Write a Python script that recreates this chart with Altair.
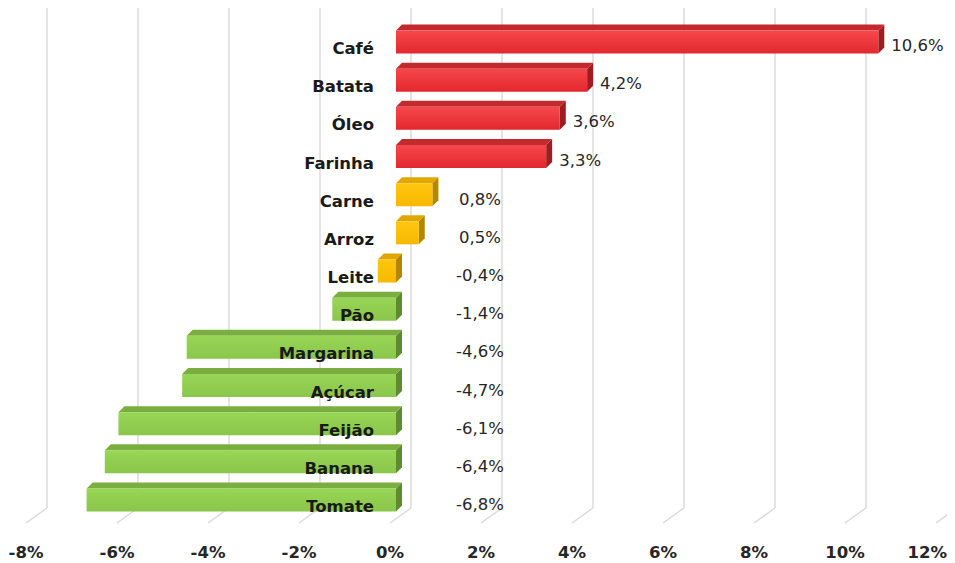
import altair as alt
import pandas as pd

# ---- data ----
categories = ["Café", "Batata", "Óleo", "Farinha", "Carne", "Arroz", "Leite",
              "Pão", "Margarina", "Açúcar", "Feijão", "Banana", "Tomate"]
values = [10.6, 4.2, 3.6, 3.3, 0.8, 0.5, -0.4, -1.4, -4.6, -4.7, -6.1, -6.4, -6.8]
groups = ["alta"] * 4 + ["estavel"] * 3 + ["baixa"] * 6
ticks = [-8, -6, -4, -2, 0, 2, 4, 6, 8, 10, 12]
tick_labels = ["-8%", "-6%", "-4%", "-2%", "0%", "2%", "4%", "6%", "8%", "10%", "12%"]

# ---- style ----
W, H = 939, 555
PX_X = 45.5      # px per 1 %
PX_Y = 38.17     # px per row
DEPTH = 6.0      # 3D depth in px
HALF = 11.5      # half bar height in px
FONT = "DejaVu Sans"

top_col = {"alta": "#C22A2E", "estavel": "#E0A700", "baixa": "#7AAE3E"}
side_col = {"alta": "#9C1E22", "estavel": "#B38700", "baixa": "#5E8A32"}
front_grad = {
    "alta": ("#F6484C", "#E2282E"),
    "estavel": ("#FFC510", "#F7B900"),
    "baixa": ("#98D656", "#8AC64A"),
}

x0 = 388.0 / PX_X
xs = alt.Scale(domain=[-x0, (W - 388.0) / PX_X], nice=False, zero=False)
y0 = 34.0 / PX_Y
ys = alt.Scale(domain=[-y0, (H - 34.0) / PX_Y], nice=False, zero=False, reverse=True)

dxv = DEPTH / PX_X
dyr = DEPTH / PX_Y
h = HALF / PX_Y

df = pd.DataFrame({"cat": categories, "v": values, "grp": groups})
df["row"] = range(len(df))
df["zero"] = 0.0
df["lo"] = df["v"].clip(upper=0)
df["hi"] = df["v"].clip(lower=0)
df["top"] = df["row"] - h
df["bot"] = df["row"] + h
df["label"] = df["v"].map(lambda v: f"{v:.1f}".replace(".", ",") + "%")

top_rows = []
side_rows = []
for _, r in df.iterrows():
    t, b, lo, hi = r["top"], r["bot"], r["lo"], r["hi"]
    c = top_col[r["grp"]]
    for px, ya, yb in [(lo, t, t), (lo + dxv, t - dyr, t), (hi, t - dyr, t), (hi + dxv, t - dyr, t - dyr)]:
        top_rows.append({"cat": r["cat"], "x": px, "y": ya, "y2": yb, "fill": c})
    c2 = side_col[r["grp"]]
    for px, ya, yb in [(hi, t, b), (hi + dxv, t - dyr, b - dyr)]:
        side_rows.append({"cat": r["cat"], "x": px, "y": ya, "y2": yb, "fill": c2})
top_df = pd.DataFrame(top_rows)
side_df = pd.DataFrame(side_rows)

tick_df = pd.DataFrame({"t": ticks, "lab": tick_labels})
last_tick = ticks[-1]

grid_col = "#D9D9D9"
grid_v = alt.Chart(tick_df).mark_rule(color=grid_col, strokeWidth=1.4, xOffset=15).encode(
    x=alt.X("t:Q", scale=xs, axis=None),
    y=alt.value(0), y2=alt.value(500),
)
grid_d = alt.Chart(tick_df).mark_rule(color=grid_col, strokeWidth=1.4, xOffset=15, x2Offset=-6).encode(
    x=alt.X("t:Q", scale=xs, axis=None), x2="t:Q",
    y=alt.value(500), y2=alt.value(515),
)
tick_text = alt.Chart(tick_df).transform_filter(alt.datum.t < last_tick).mark_text(
    font=FONT, fontSize=16.5, fontWeight="bold", color="#262626", dx=-6, baseline="middle"
).encode(
    x=alt.X("t:Q", scale=xs, axis=None), y=alt.value(545), text="lab:N"
)
tick_last = alt.Chart(tick_df).transform_filter(alt.datum.t == last_tick).mark_text(
    font=FONT, fontSize=16.5, fontWeight="bold", color="#262626", dx=5, align="right",
    baseline="middle"
).encode(
    x=alt.X("t:Q", scale=xs, axis=None), y=alt.value(545), text="lab:N"
)

sides = alt.Chart(side_df).mark_area().encode(
    x=alt.X("x:Q", scale=xs, axis=None),
    y=alt.Y("y:Q", scale=ys, axis=None), y2="y2:Q",
    detail="cat:N",
    color=alt.Color("fill:N", scale=None),
)
tops = alt.Chart(top_df).mark_area().encode(
    x=alt.X("x:Q", scale=xs, axis=None),
    y=alt.Y("y:Q", scale=ys, axis=None), y2="y2:Q",
    detail="cat:N",
    color=alt.Color("fill:N", scale=None),
)

fronts = []
for g, (c1, c2) in front_grad.items():
    fronts.append(
        alt.Chart(df).transform_filter(alt.datum.grp == g).mark_rect(
            color=alt.Gradient(gradient="linear", x1=0, x2=0, y1=0, y2=1,
                               stops=[alt.GradientStop(color=c1, offset=0),
                                      alt.GradientStop(color=c2, offset=1)])
        ).encode(
            x=alt.X("lo:Q", scale=xs, axis=None), x2="hi:Q",
            y=alt.Y("top:Q", scale=ys, axis=None), y2="bot:Q",
        )
    )

cat_text = alt.Chart(df).mark_text(
    font=FONT, fontSize=16.5, fontWeight="bold", color="#1A1A1A",
    align="right", baseline="middle", dx=-22, dy=7
).encode(
    x=alt.X("zero:Q", scale=xs, axis=None), y=alt.Y("row:Q", scale=ys, axis=None), text="cat:N"
)

val_pos = alt.Chart(df).transform_filter(alt.datum.grp == "alta").mark_text(
    font=FONT, fontSize=16.5, color="#262626", align="left", baseline="middle", dx=13, dy=4
).encode(
    x=alt.X("v:Q", scale=xs, axis=None), y=alt.Y("row:Q", scale=ys, axis=None), text="label:N"
)
val_other = alt.Chart(df).transform_filter(alt.datum.grp != "alta").mark_text(
    font=FONT, fontSize=16.5, color="#262626", align="center", baseline="middle", dx=84, dy=5
).encode(
    x=alt.X("zero:Q", scale=xs, axis=None), y=alt.Y("row:Q", scale=ys, axis=None), text="label:N"
)

chart = alt.layer(
    grid_v, grid_d, tick_text, tick_last, sides, tops, *fronts, cat_text, val_pos, val_other
).properties(
    width=W, height=H, autosize=alt.AutoSizeParams(type="none"), padding=0
).configure_view(stroke=None)

chart.save("out.html", embed_options={"renderer": "svg", "actions": False})
